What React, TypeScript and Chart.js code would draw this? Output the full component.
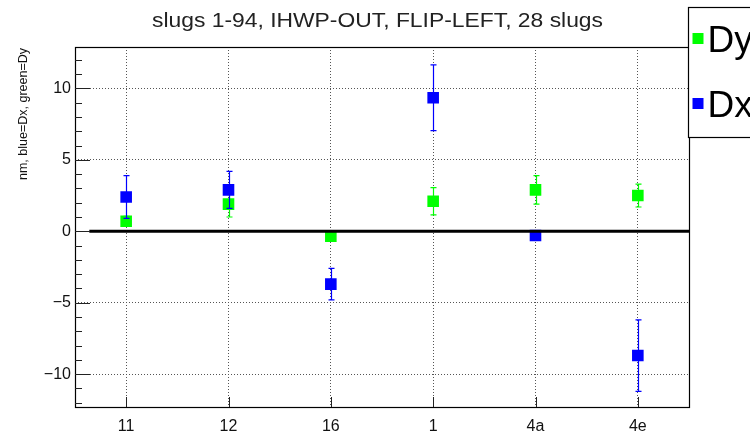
import React, { useEffect, useRef } from "react";
import { Chart, registerables } from "chart.js";

Chart.register(...registerables);

const categories = ["11", "12", "16", "1", "4a", "4e"];
const dxValues = [2.4, 2.9, -3.7, 9.35, -0.3, -8.7];
const dxErrors = [1.5, 1.3, 1.1, 2.3, 0.3, 2.5];
const dyValues = [0.7, 1.9, -0.35, 2.1, 2.9, 2.5];
const dyErrors = [0.35, 0.9, 0.3, 0.95, 1.0, 0.8];
const yMin = -12.3;
const yMax = 12.9;
const yStep = 5;
const yMinorStep = 1;
const titleText = "slugs 1-94, IHWP-OUT, FLIP-LEFT, 28 slugs";
const yAxisTitle = "nm, blue=Dx, green=Dy";
const zeroLineStart = -0.36;
const FONT = "'Liberation Sans', Arial, Helvetica, sans-serif";

const rootPlugin = {
  id: "rootStyle",
  beforeDatasetDraw(chart: any, args: any) {
    const ds = chart.data.datasets[args.index];
    const errs: number[] = ds.errorBars;
    if (!errs) return;
    const x = chart.scales.x;
    const y = chart.scales.y;
    const ctx = chart.ctx;
    ctx.save();
    ctx.strokeStyle = ds.backgroundColor;
    ctx.lineWidth = 1.2;
    (ds.data as number[]).forEach((v, i) => {
      const px = Math.round(x.getPixelForValue(i)) + 0.5;
      const top = y.getPixelForValue(v + errs[i]);
      const bot = y.getPixelForValue(v - errs[i]);
      ctx.beginPath();
      ctx.moveTo(px, top);
      ctx.lineTo(px, bot);
      ctx.moveTo(px - 3, top);
      ctx.lineTo(px + 3, top);
      ctx.moveTo(px - 3, bot);
      ctx.lineTo(px + 3, bot);
      ctx.stroke();
    });
    ctx.restore();
  },
  afterDatasetsDraw(chart: any) {
    const { ctx, chartArea: a } = chart;
    const x = chart.scales.x;
    const y = chart.scales.y;
    ctx.save();
    // zero line
    const y0 = y.getPixelForValue(0);
    ctx.strokeStyle = "#000";
    ctx.lineWidth = 3;
    ctx.beginPath();
    ctx.moveTo(x.getPixelForValue(zeroLineStart), y0);
    ctx.lineTo(a.right, y0);
    ctx.stroke();
    // frame
    ctx.lineWidth = 1.2;
    ctx.strokeRect(a.left + 0.5, a.top + 0.5, a.right - a.left, a.bottom - a.top);
    // y ticks inside
    ctx.lineWidth = 1;
    ctx.strokeStyle = "#222";
    for (let v = Math.ceil(yMin); v <= yMax; v += yMinorStep) {
      const py = Math.round(y.getPixelForValue(v)) + 0.5;
      const len = v % yStep === 0 ? 15 : 7;
      ctx.beginPath();
      ctx.moveTo(a.left, py);
      ctx.lineTo(a.left + len, py);
      ctx.stroke();
    }
    // x ticks inside
    categories.forEach((_, i) => {
      const px = Math.round(x.getPixelForValue(i)) + 0.5;
      ctx.beginPath();
      ctx.moveTo(px, a.bottom);
      ctx.lineTo(px, a.bottom - 10);
      ctx.stroke();
    });
    ctx.restore();
  },
  afterDraw(chart: any) {
    const { ctx, chartArea: a } = chart;
    ctx.save();
    // title (stretched horizontally like the original)
    ctx.fillStyle = "#222";
    ctx.font = `19.5px ${FONT}`;
    ctx.textAlign = "left";
    ctx.textBaseline = "alphabetic";
    const tw = ctx.measureText(titleText).width;
    const target = 451;
    ctx.save();
    ctx.translate(152, 27);
    ctx.scale(target / tw, 1);
    ctx.fillText(titleText, 0, 0);
    ctx.restore();
    // y axis title
    ctx.save();
    ctx.translate(27, a.top + 1);
    ctx.rotate(-Math.PI / 2);
    ctx.font = `12.5px ${FONT}`;
    ctx.fillStyle = "#111";
    ctx.textAlign = "right";
    ctx.fillText(yAxisTitle, 0, 0);
    ctx.restore();
    // legend
    const lx = a.right - 0.5;
    ctx.fillStyle = "#fff";
    ctx.fillRect(lx, 7, 120, 130);
    ctx.strokeStyle = "#000";
    ctx.lineWidth = 1.2;
    ctx.strokeRect(lx, 7.5, 120, 130);
    const entries = [chart.data.datasets[0], chart.data.datasets[1]];
    const baselines = [52, 117];
    entries.forEach((ds: any, k: number) => {
      const bl = baselines[k];
      ctx.fillStyle = ds.backgroundColor;
      ctx.fillRect(lx + 4, bl - 19, 11, 11);
      ctx.fillStyle = "#000";
      ctx.font = `37px ${FONT}`;
      ctx.textAlign = "left";
      ctx.fillText(ds.label, lx + 19, bl);
    });
    ctx.restore();
  },
};

const minusFmt = (v: any) => String(v).replace("-", "\u2212");

export default function App() {
  const ref = useRef<HTMLCanvasElement | null>(null);
  useEffect(() => {
    if (!ref.current) return;
    const chart = new Chart(ref.current, {
      type: "line",
      data: {
        labels: categories,
        datasets: [
          {
            label: "Dy",
            data: dyValues,
            errorBars: dyErrors,
            showLine: false,
            pointStyle: "rect",
            pointRadius: 8.2,
            pointBorderWidth: 0,
            backgroundColor: "#00ff00",
            borderColor: "#00ff00",
            order: 1,
          } as any,
          {
            label: "Dx",
            data: dxValues,
            errorBars: dxErrors,
            showLine: false,
            pointStyle: "rect",
            pointRadius: 8.2,
            pointBorderWidth: 0,
            backgroundColor: "#0000ff",
            borderColor: "#0000ff",
            order: 0,
          } as any,
        ],
      },
      options: {
        responsive: false,
        animation: false,
        devicePixelRatio: 1,
        layout: { padding: { top: 47, right: 61, left: 0, bottom: 0 } },
        plugins: { legend: { display: false }, title: { display: false }, tooltip: { enabled: false } },
        scales: {
          x: {
            type: "category",
            offset: true,
            grid: { offset: false, color: "#555", lineWidth: 1, drawTicks: false },
            border: { display: false, dash: [1, 2] },
            ticks: { color: "#111", font: { family: FONT, size: 16 }, padding: 10, maxRotation: 0 },
            afterFit: (s: any) => { s.height = 26; },
          },
          y: {
            min: yMin,
            max: yMax,
            grid: { color: "#555", lineWidth: 1, drawTicks: false },
            border: { display: false, dash: [1, 2] },
            ticks: { stepSize: yStep, includeBounds: false, color: "#111", font: { family: FONT, size: 16 }, padding: 4, callback: minusFmt },
            afterFit: (s: any) => { s.width = 75; },
          },
        },
      } as any,
      plugins: [rootPlugin],
    });
    return () => chart.destroy();
  }, []);
  return (
    <div style={{ position: "fixed", left: 0, top: 0, width: 750, height: 433, background: "#fff" }}>
      <canvas ref={ref} width={750} height={433} />
    </div>
  );
}
